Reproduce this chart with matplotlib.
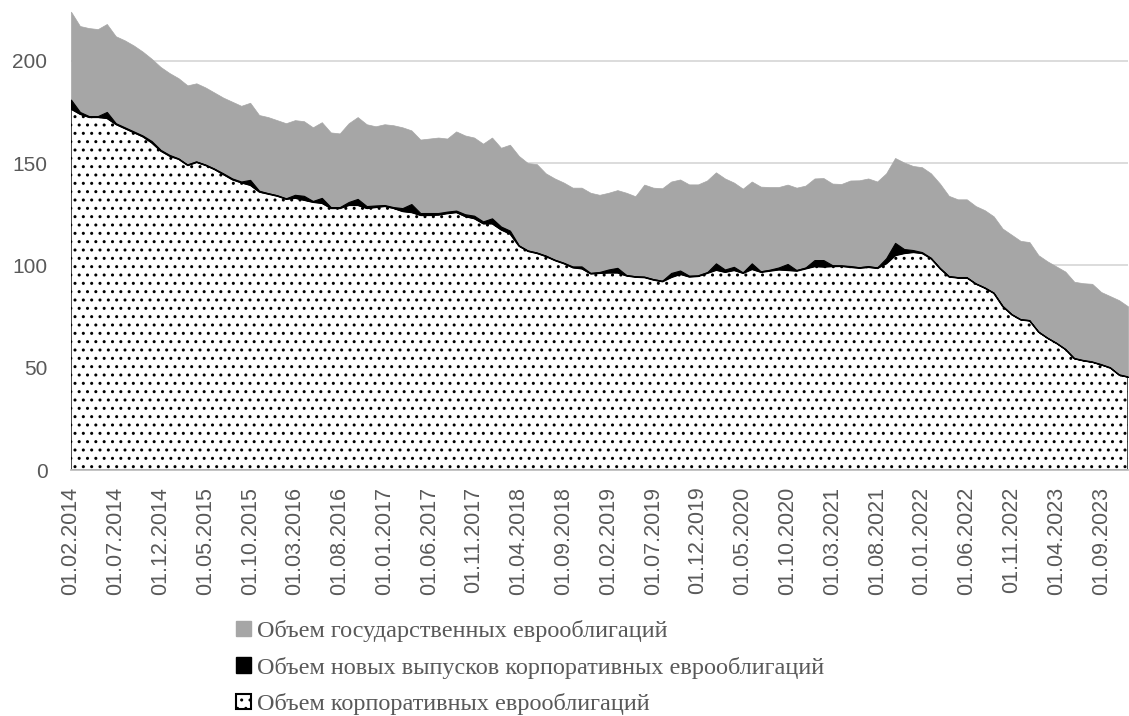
import matplotlib
matplotlib.use("Agg")
import matplotlib.pyplot as plt
from matplotlib.patches import Patch
import numpy as np

# ---- data (billions USD, monthly, 01.02.2014 .. 01.12.2023) ----
corp = [176.5, 174, 172.5, 172.5, 172, 169, 167, 165, 163, 160,
        156, 153.5, 152, 149, 150.5, 149, 147, 144.5, 142, 140.5,
        139.3, 136, 135, 134, 132.5, 133, 132, 131, 130.5, 128,
        128, 129.5, 129.5, 128, 128.5, 129, 128, 126.5, 126, 124.6,
        124.6, 124.8, 125.5, 126, 124, 123, 120.5, 120.5, 117.5, 115.5,
        109.5, 107, 106, 104.5, 102.5, 101, 99, 98.5, 96, 96.3,
        96.5, 96.5, 95, 94.4, 94.2, 93, 92.2, 94.3, 95.8, 94.5,
        94.8, 96.3, 97.8, 96.8, 97.7, 96.3, 98.2, 96.8, 97.4, 98,
        97.7, 97.4, 98.5, 99.6, 99.4, 99.6, 99.7, 99.2, 98.8, 99.2,
        98.7, 101, 105, 106, 106.5, 106, 103.4, 98.5, 94.5, 94,
        94, 91, 89, 86.5, 80, 76, 73.5, 73, 67.5, 64.5,
        62, 59, 54.5, 53.5, 52.8, 51.5, 50, 46.5, 45.5]
new = [4.5, 1, 0.5, 0.5, 3, 0.5, 0.5, 0.5, 0.5, 0.8,
       0.5, 0.5, 0.3, 0.3, 0.3, 0.3, 0.3, 0.5, 0.5, 0.5,
       2.5, 0.5, 0.3, 0.3, 0.3, 1.5, 2, 0.5, 2.5, 0.5,
       0.5, 1.5, 3, 1, 0.8, 0.5, 0.5, 1.5, 4, 1,
       1, 0.8, 0.8, 0.8, 1, 1.3, 1, 2.5, 1.5, 1.5,
       0.3, 0.3, 0.3, 0.3, 0.3, 0.3, 0.5, 1, 0.3, 0.5,
       1.5, 2.3, 0.3, 0.3, 0.3, 0.3, 0.3, 2, 1.7, 0.5,
       0.3, 0.3, 3.2, 1.2, 1.6, 0.3, 2.8, 0.3, 0.5, 1,
       3, 0.3, 0.5, 3, 3.2, 0.5, 0.3, 0.5, 0.3, 0.5,
       0.3, 2.5, 6, 2, 1, 0.5, 0.3, 0.3, 0.3, 0.2,
       0.2, 0.2, 0.2, 0.2, 0.2, 0.2, 0.2, 0.2, 0.1, 0.1,
       0.1, 0.1, 0.1, 0.1, 0.1, 0.1, 0.1, 0.1, 0.1]
gov = [43, 42, 43, 42.5, 43, 42.5, 42.5, 42, 41, 40.2,
       40.5, 40, 39.2, 38.7, 38.2, 37.7, 37.2, 37, 37.5, 37,
       37.7, 37, 37.2, 36.7, 36.7, 36.5, 36.5, 36, 37, 36.5,
       36, 38.5, 40, 40, 38.7, 39.5, 40, 39.5, 36, 35.9,
       36.4, 36.9, 35.7, 38.7, 38.5, 38.2, 38, 39.5, 38.5, 42,
       43.7, 42.7, 43.2, 40.2, 39.7, 39.2, 38.5, 38.5, 39.2, 37.7,
       37.5, 38, 40.2, 39.1, 45, 44.7, 45.2, 44.7, 44.5, 44.6,
       44.5, 44.9, 44.5, 44.5, 41.2, 40.9, 40, 41.4, 40.4, 39.3,
       38.8, 40.3, 40, 39.9, 40.1, 39.9, 39.8, 41.8, 42.5, 42.8,
       42, 41.5, 41.5, 42.3, 41.1, 41.5, 41.3, 41.2, 39.2, 38.1,
       38.1, 37.8, 37.8, 37.3, 37.8, 38.8, 38.3, 38.2, 37.4, 37.4,
       37.4, 37.9, 37.4, 37.7, 38.1, 35.4, 34.9, 36.4, 34.4]

tick_labels = ["01.02.2014", "01.07.2014", "01.12.2014", "01.05.2015", "01.10.2015",
               "01.03.2016", "01.08.2016", "01.01.2017", "01.06.2017", "01.11.2017",
               "01.04.2018", "01.09.2018", "01.02.2019", "01.07.2019", "01.12.2019",
               "01.05.2020", "01.10.2020", "01.03.2021", "01.08.2021", "01.01.2022",
               "01.06.2022", "01.11.2022", "01.04.2023", "01.09.2023"]

series_names = ["Объем государственных еврооблигаций",
                "Объем новых выпусков корпоративных еврооблигаций",
                "Объем корпоративных еврооблигаций"]

# ---- figure ----
W, H = 1129, 716
fig = plt.figure(figsize=(W / 100, H / 100), dpi=100)
ax = fig.add_axes([71 / W, (H - 470) / H, (1128 - 71) / W, 470 / H])

x = np.arange(len(corp))
c = np.array(corp)
n = np.array(new)
g = np.array(gov)

plt.rcParams['hatch.linewidth'] = 1.0
ax.fill_between(x, 0, c, facecolor='white', edgecolor='black', hatch='..',
                linewidth=1.0, zorder=2)
ax.fill_between(x, c, c + n, facecolor='black', edgecolor='black',
                linewidth=0.8, zorder=3)
ax.fill_between(x, c + n, c + n + g, facecolor='#A6A6A6', edgecolor='#A6A6A6',
                linewidth=0.5, zorder=1)

ax.set_xlim(0, len(corp) - 1)
ax.set_ylim(0, 470 / 2.046)
ax.set_yticks([0, 50, 100, 150, 200])
ax.yaxis.grid(True, color='#D9D9D9', linewidth=1.3, zorder=0)
ax.set_axisbelow(True)
ax.set_xticks(x[::5])
ax.set_xticklabels(tick_labels, rotation=90)
for s in ['top', 'right', 'left']:
    ax.spines[s].set_visible(False)
ax.spines['bottom'].set_color('#BFBFBF')
ax.spines['bottom'].set_linewidth(1.3)
ax.spines['bottom'].set_zorder(5)
ax.tick_params(axis='both', length=0, colors='#595959')
ax.tick_params(axis='y', pad=17, labelsize=15)
ax.tick_params(axis='x', pad=12, labelsize=15.5)
for lab in ax.get_xticklabels() + ax.get_yticklabels():
    lab.set_fontfamily('Liberation Sans')

handles = [Patch(facecolor='#A6A6A6', edgecolor='#A6A6A6'),
           Patch(facecolor='black', edgecolor='black'),
           Patch(facecolor='white', edgecolor='black', hatch='..', linewidth=1.5)]
leg = fig.legend(handles, series_names, loc='upper left',
                 bbox_to_anchor=(236 / W, 1 - 620 / H), frameon=False,
                 borderpad=0, borderaxespad=0, handlelength=0.6, handleheight=0.6,
                 handletextpad=0.25, labelspacing=0.6,
                 prop={'family': 'Liberation Serif', 'size': 17.5})
for t in leg.get_texts():
    t.set_color('#595959')

fig.savefig('out.png', dpi=100)
